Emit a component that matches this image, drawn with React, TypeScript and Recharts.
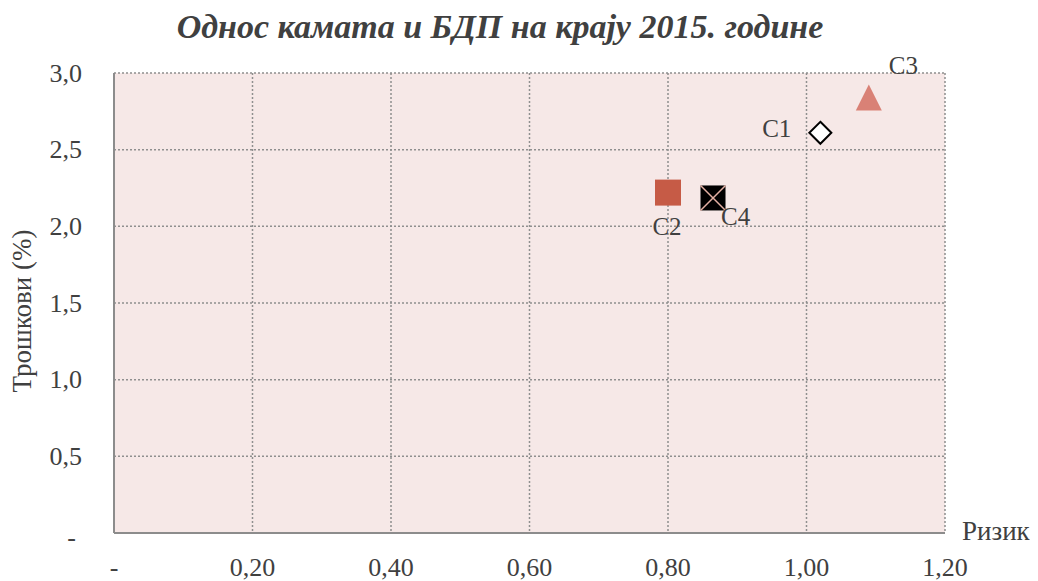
import React from 'react';
import { ScatterChart, Scatter, XAxis, YAxis, CartesianGrid } from 'recharts';

const seriesNames = ['C1', 'C2', 'C3', 'C4'];
const riskValues = [1.02, 0.8, 1.09, 0.865];
const costValues = [2.61, 2.22, 2.84, 2.185];
const xTicks = [0, 0.2, 0.4, 0.6, 0.8, 1.0, 1.2];
const yTicks = [0, 0.5, 1.0, 1.5, 2.0, 2.5, 3.0];

const FONT = '"Liberation Serif", "DejaVu Serif", serif';
const TXT = '#404040';

const fmtX = (v: number) => (v === 0 ? '-' : v.toFixed(2).replace('.', ','));
const fmtY = (v: number) => (v === 0 ? '-' : v.toFixed(1).replace('.', ','));

const XTick = (props: any) => {
  const { x, y, payload } = props;
  return (
    <text x={x} y={y} textAnchor="middle" dominantBaseline="central" fontFamily={FONT} fontSize={26} fill={TXT}>
      {fmtX(payload.value)}
    </text>
  );
};

const YTick = (props: any) => {
  const { x, y, payload } = props;
  const isZero = payload.value === 0;
  return (
    <text x={isZero ? x - 6 : x} y={isZero ? y + 4 : y} textAnchor="end" dominantBaseline="central" fontFamily={FONT} fontSize={26} fill={TXT}>
      {fmtY(payload.value)}
    </text>
  );
};

const labelStyle = { fontFamily: FONT, fontSize: 25, fill: TXT };

const DiamondShape = (p: any) => {
  const { cx, cy } = p;
  const r = 11;
  return (
    <g>
      <path d={`M${cx},${cy - r} L${cx + r},${cy} L${cx},${cy + r} L${cx - r},${cy} Z`} fill="#ffffff" stroke="#000000" strokeWidth={2} />
      <text x={cx - 29} y={cy - 4} textAnchor="end" dominantBaseline="central" {...labelStyle}>C1</text>
    </g>
  );
};

const SquareShape = (p: any) => {
  const { cx, cy } = p;
  const h = 13;
  return (
    <g>
      <rect x={cx - h} y={cy - h} width={2 * h} height={2 * h} fill="#C65B46" />
      <text x={cx - 1} y={cy + 34} textAnchor="middle" dominantBaseline="central" {...labelStyle}>C2</text>
    </g>
  );
};

const TriangleShape = (p: any) => {
  const { cx, cy } = p;
  const h = 13;
  return (
    <g>
      <path d={`M${cx},${cy - h} L${cx + h},${cy + h} L${cx - h},${cy + h} Z`} fill="#D98176" />
      <text x={cx + 20} y={cy - 32} textAnchor="start" dominantBaseline="central" {...labelStyle}>C3</text>
    </g>
  );
};

const XSquareShape = (p: any) => {
  const { cx, cy } = p;
  const h = 12.5;
  return (
    <g>
      <rect x={cx - h} y={cy - h} width={2 * h} height={2 * h} fill="#000000" />
      <line x1={cx - h} y1={cy - h} x2={cx + h} y2={cy + h} stroke="#E3AFA3" strokeWidth={1.5} />
      <line x1={cx + h} y1={cy - h} x2={cx - h} y2={cy + h} stroke="#E3AFA3" strokeWidth={1.5} />
      <text x={cx + 8} y={cy + 19} textAnchor="start" dominantBaseline="central" {...labelStyle}>C4</text>
    </g>
  );
};

const shapes = [DiamondShape, SquareShape, TriangleShape, XSquareShape];

export default function App() {
  return (
    <div style={{ width: 1030, height: 573, position: 'relative' }}>
      <div
        style={{
          position: 'absolute',
          left: 0,
          top: -1,
          width: 984,
          textAlign: 'center',
          fontFamily: FONT,
          fontWeight: 'bold',
          fontStyle: 'italic',
          fontSize: 34,
          color: TXT,
          lineHeight: '40px',
          whiteSpace: 'nowrap',
        }}
      >
        Однос камата и БДП на крају 2015. године
      </div>
      <ScatterChart width={1030} height={573} margin={{ top: 65, right: 93, bottom: 0, left: 0 }}>
        <CartesianGrid
          stroke="#8f8f8f"
          strokeDasharray="2 2"
          strokeWidth={1.5}
          fill="#F6E8E7"
          horizontalValues={[0.5, 1.0, 1.5, 2.0, 2.5, 3.0]}
          verticalValues={[0.2, 0.4, 0.6, 0.8, 1.0, 1.2]}
        />
        <XAxis
          type="number"
          dataKey="x"
          domain={[0, 1.2]}
          ticks={xTicks}
          tick={<XTick />}
          tickLine={false}
          tickSize={0}
          tickMargin={34}
          height={48}
          axisLine={{ stroke: '#8c8c8c', strokeWidth: 2 }}
          label={{
            content: (lp: any) => {
              const vb = lp.viewBox;
              return (
                <text x={vb.x + vb.width + 17} y={vb.y - 2} textAnchor="start" dominantBaseline="central" fontFamily={FONT} fontSize={27} fill={TXT}>
                  Ризик
                </text>
              );
            },
          }}
        />
        <YAxis
          type="number"
          dataKey="y"
          domain={[0, 3]}
          ticks={yTicks}
          tick={<YTick />}
          tickLine={false}
          tickSize={0}
          tickMargin={32}
          width={106}
          axisLine={{ stroke: '#8c8c8c', strokeWidth: 2 }}
          label={{
            content: (lp: any) => {
              const vb = lp.viewBox;
              const cy = vb.y + vb.height / 2 + 8;
              return (
                <text x={14} y={cy} transform={`rotate(-90, 14, ${cy})`} textAnchor="middle" dominantBaseline="central" fontFamily={FONT} fontSize={27} fill={TXT}>
                  Трошкови (%)
                </text>
              );
            },
          }}
        />
        {seriesNames.map((name, i) => (
          <Scatter
            key={name}
            name={name}
            data={[{ x: riskValues[i], y: costValues[i] }]}
            shape={shapes[i]}
            isAnimationActive={false}
          />
        ))}
      </ScatterChart>
    </div>
  );
}
